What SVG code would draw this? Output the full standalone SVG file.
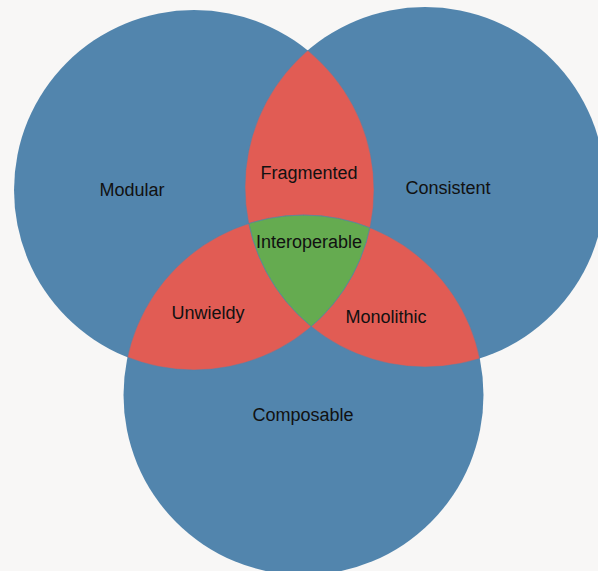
<svg xmlns="http://www.w3.org/2000/svg" width="598" height="571" viewBox="0 0 598 571">
  <style>
    .set { fill: #5285ad; }
    .pair { fill: #e15c54; }
    .triple { fill: #65ab50; }
    .edge { fill: none; stroke: #5285ad; stroke-width: 0.8; stroke-opacity: 0.6; }
    .label { font-family: "Liberation Sans", Arial, sans-serif; font-size: 18px; fill: #111; text-anchor: middle; }
  </style>
  <defs>
    <clipPath id="clipA"><circle cx="194" cy="190" r="180"/></clipPath>
    <clipPath id="clipB"><circle cx="425" cy="187" r="180"/></clipPath>
    <clipPath id="clipC"><circle cx="303.5" cy="395" r="180"/></clipPath>
  </defs>
  <rect x="0" y="0" width="598" height="571" fill="#f8f7f6"/>

  <g id="modular">
    <circle class="set" cx="194" cy="190" r="180"/>
  </g>
  <g id="consistent">
    <circle class="set" cx="425" cy="187" r="180"/>
  </g>
  <g id="composable">
    <circle class="set" cx="303.5" cy="395" r="180"/>
  </g>

  <g id="fragmented">
    <circle class="pair" cx="425" cy="187" r="180" clip-path="url(#clipA)"/>
  </g>
  <g id="unwieldy">
    <circle class="pair" cx="303.5" cy="395" r="180" clip-path="url(#clipA)"/>
  </g>
  <g id="monolithic">
    <circle class="pair" cx="303.5" cy="395" r="180" clip-path="url(#clipB)"/>
  </g>
  <g id="interoperable">
    <g clip-path="url(#clipA)">
      <circle class="triple" cx="303.5" cy="395" r="180" clip-path="url(#clipB)"/>
    </g>
  </g>

  <g id="outlines">
    <circle class="edge" cx="194" cy="190" r="180" clip-path="url(#clipB)"/>
    <circle class="edge" cx="425" cy="187" r="180" clip-path="url(#clipA)"/>
    <circle class="edge" cx="303.5" cy="395" r="180" clip-path="url(#clipA)"/>
    <circle class="edge" cx="303.5" cy="395" r="180" clip-path="url(#clipB)"/>
    <circle class="edge" cx="194" cy="190" r="180" clip-path="url(#clipC)"/>
    <circle class="edge" cx="425" cy="187" r="180" clip-path="url(#clipC)"/>
  </g>

  <g id="labels">
    <text class="label" x="132" y="196">Modular</text>
    <text class="label" x="448" y="194">Consistent</text>
    <text class="label" x="303" y="421">Composable</text>
    <text class="label" x="309" y="179">Fragmented</text>
    <text class="label" x="309" y="248">Interoperable</text>
    <text class="label" x="208" y="319">Unwieldy</text>
    <text class="label" x="386" y="323">Monolithic</text>
  </g>
</svg>
